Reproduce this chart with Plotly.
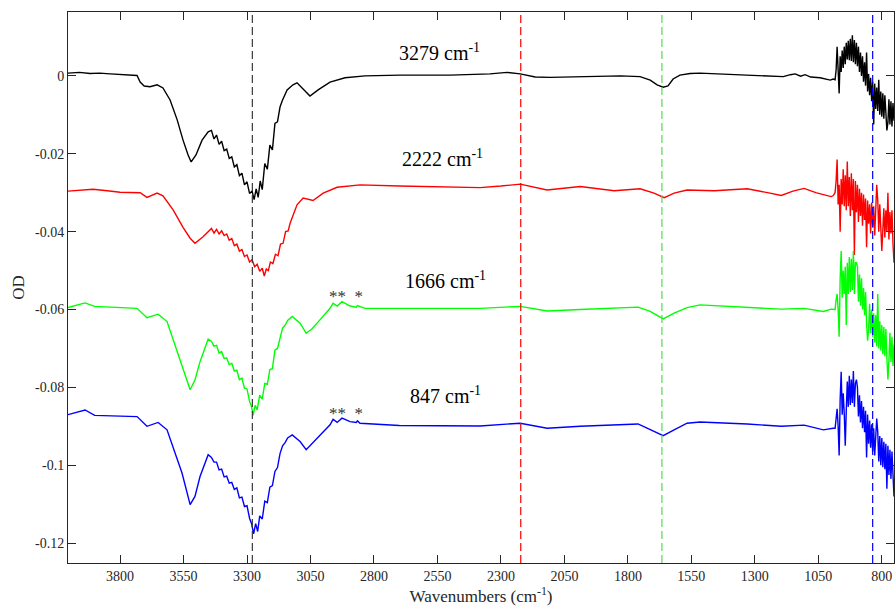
import plotly.graph_objects as go

# ---- data (wavenumber cm^-1, OD) ----
black = [(4005, 0.0007), (3960, 0.0009), (3918, 0.0006), (3880, 0.0007), (3839, 0.0005), (3800, 0.0004),
         (3761, 0.0002), (3733, 0.0001), (3721, -0.0016), (3705, -0.0026), (3682, -0.0028), (3654, -0.0023),
         (3631, -0.0031), (3603, -0.0062), (3575, -0.0113), (3552, -0.0165), (3532, -0.0203), (3520, -0.0221),
         (3501, -0.0203), (3477, -0.0165), (3453, -0.0144),
         (3440, -0.0140), (3430, -0.0162), (3420, -0.0152), (3410, -0.0176), (3400, -0.0168), (3390, -0.0192),
         (3380, -0.0188), (3370, -0.0212), (3360, -0.0208), (3350, -0.0234), (3340, -0.0228), (3330, -0.0256),
         (3320, -0.0250), (3310, -0.0280), (3300, -0.0272), (3290, -0.0302), (3280, -0.0296), (3272, -0.0318),
         (3264, -0.0290), (3256, -0.0312), (3248, -0.0270), (3240, -0.0292), (3230, -0.0225), (3220, -0.0240),
         (3210, -0.0178), (3200, -0.0190), (3190, -0.0122), (3180, -0.0118), (3170, -0.0080),
         (3160, -0.0062), (3142, -0.0036), (3119, -0.0023), (3103, -0.0018), (3083, -0.0031), (3052, -0.0052),
         (3020, -0.0036), (2973, -0.0016), (2914, -0.0005), (2835, 0.0000), (2697, 0.0002), (2500, 0.0002),
         (2343, 0.0005), (2276, 0.0009), (2224, 0.0005), (2165, -0.0003), (2106, -0.0004), (1988, -0.0003),
         (1830, 0.0000), (1752, -0.0002), (1712, -0.0011), (1685, -0.0023), (1661, -0.0029), (1642, -0.0026),
         (1622, -0.0008), (1595, 0.0002), (1555, 0.0006), (1516, 0.0007), (1397, 0.0004), (1279, 0.0000),
         (1188, -0.0002), (1160, 0.0003), (1141, 0.0005), (1120, -0.0001), (1102, 0.0003), (1080, -0.0003),
         (1043, -0.0005), (1003, -0.0011), (992, -0.0008),
         (984, -0.0010), (980, 0.0015), (976, 0.0075), (972, -0.0005), (968, -0.0045), (964, 0.0050),
         (960, 0.0010), (956, 0.0065), (952, 0.0020), (948, 0.0075), (944, 0.0030), (940, 0.0085),
         (936, 0.0042), (932, 0.0090), (928, 0.0040), (924, 0.0095), (920, 0.0038), (916, 0.0104),
         (912, 0.0035), (908, 0.0092), (904, 0.0030), (900, 0.0085), (896, 0.0025), (892, 0.0075),
         (888, 0.0010), (884, 0.0060), (880, 0.0000), (876, 0.0050), (872, -0.0015), (868, 0.0035),
         (864, -0.0025), (860, 0.0060), (856, -0.0040), (852, 0.0005), (848, -0.0050), (844, -0.0005),
         (840, -0.0065), (836, -0.0015), (832, -0.0125), (828, -0.0020), (824, -0.0085), (820, -0.0030),
         (816, -0.0090), (812, -0.0010), (808, -0.0100), (804, -0.0040), (800, -0.0105), (796, -0.0045),
         (792, -0.0110), (788, -0.0050), (784, -0.0115), (780, -0.0140), (776, -0.0120), (772, -0.0060),
         (768, -0.0125), (764, -0.0065), (760, -0.0130), (756, -0.0070), (752, -0.0115)]

red = [(4005, -0.0296), (3950, -0.0294), (3906, -0.0291), (3850, -0.0295), (3800, -0.0299), (3721, -0.0300),
       (3694, -0.0312), (3654, -0.0301), (3631, -0.0308), (3591, -0.0344), (3552, -0.0389), (3524, -0.0417),
       (3505, -0.0430), (3473, -0.0413), (3450, -0.0400),
       (3440, -0.0392), (3430, -0.0404), (3420, -0.0394), (3410, -0.0406), (3400, -0.0398), (3390, -0.0410),
       (3380, -0.0406), (3370, -0.0422), (3360, -0.0418), (3350, -0.0436), (3340, -0.0432), (3330, -0.0450),
       (3320, -0.0446), (3310, -0.0464), (3300, -0.0460), (3290, -0.0478), (3280, -0.0472), (3270, -0.0490),
       (3260, -0.0484), (3250, -0.0502), (3240, -0.0494), (3232, -0.0514), (3224, -0.0496), (3216, -0.0500),
       (3208, -0.0478), (3198, -0.0482), (3188, -0.0458), (3178, -0.0462), (3168, -0.0432), (3158, -0.0430),
       (3148, -0.0400), (3138, -0.0398), (3130, -0.0378),
       (3103, -0.0331), (3079, -0.0314), (3040, -0.0320), (3000, -0.0301), (2945, -0.0286), (2855, -0.0280),
       (2700, -0.0283), (2500, -0.0285), (2382, -0.0287), (2300, -0.0283), (2224, -0.0278), (2118, -0.0293),
       (1988, -0.0284), (1854, -0.0295), (1752, -0.0290), (1697, -0.0301), (1657, -0.0313), (1618, -0.0301),
       (1567, -0.0293), (1460, -0.0295), (1330, -0.0290), (1250, -0.0300), (1196, -0.0307), (1150, -0.0296),
       (1106, -0.0289), (1060, -0.0300), (1000, -0.0310), (992, -0.0308),
       (984, -0.0300), (980, -0.0270), (976, -0.0215), (972, -0.0330), (968, -0.0280), (964, -0.0400),
       (960, -0.0265), (956, -0.0330), (952, -0.0240), (948, -0.0335), (944, -0.0255), (940, -0.0345),
       (936, -0.0220), (932, -0.0335), (928, -0.0260), (924, -0.0360), (920, -0.0250), (916, -0.0345),
       (912, -0.0265), (908, -0.0460), (904, -0.0270), (900, -0.0350), (896, -0.0280), (892, -0.0375),
       (888, -0.0290), (884, -0.0360), (880, -0.0300), (876, -0.0385), (872, -0.0305), (868, -0.0370),
       (864, -0.0315), (860, -0.0440), (856, -0.0320), (852, -0.0380), (848, -0.0330), (844, -0.0405),
       (840, -0.0325), (836, -0.0390), (832, -0.0335), (828, -0.0410), (824, -0.0330), (820, -0.0280),
       (816, -0.0320), (812, -0.0400), (808, -0.0330), (804, -0.0410), (800, -0.0450), (796, -0.0395),
       (792, -0.0340), (788, -0.0415), (784, -0.0345), (780, -0.0400), (776, -0.0300), (772, -0.0420),
       (768, -0.0350), (764, -0.0405), (760, -0.0345), (756, -0.0430), (752, -0.0480)]

green = [(4005, -0.0595), (3938, -0.0583), (3900, -0.0592), (3800, -0.0594), (3733, -0.0597), (3694, -0.0621),
         (3650, -0.0612), (3615, -0.0631), (3591, -0.0678), (3556, -0.0746), (3524, -0.0806), (3505, -0.0781),
         (3485, -0.0734), (3453, -0.0676),
         (3440, -0.0682), (3430, -0.0694), (3420, -0.0692), (3410, -0.0712), (3400, -0.0708), (3390, -0.0726),
         (3380, -0.0724), (3370, -0.0742), (3360, -0.0738), (3350, -0.0758), (3340, -0.0756), (3330, -0.0780),
         (3320, -0.0776), (3310, -0.0802), (3300, -0.0804), (3290, -0.0836), (3282, -0.0850), (3276, -0.0872),
         (3268, -0.0846), (3260, -0.0858), (3250, -0.0820), (3240, -0.0830), (3230, -0.0790), (3220, -0.0792),
         (3210, -0.0754), (3200, -0.0752), (3190, -0.0704), (3180, -0.0700), (3170, -0.0672), (3160, -0.0648),
         (3150, -0.0640), (3140, -0.0628), (3122, -0.0618),
         (3091, -0.0635), (3067, -0.0661), (3045, -0.0650), (3024, -0.0635), (2973, -0.0597), (2961, -0.0584),
         (2945, -0.0591), (2926, -0.0580), (2894, -0.0591), (2870, -0.0594), (2865, -0.0590), (2835, -0.0597),
         (2600, -0.0597), (2382, -0.0597), (2224, -0.0592), (2118, -0.0604), (1988, -0.0600), (1760, -0.0594),
         (1712, -0.0605), (1661, -0.0624), (1618, -0.0609), (1567, -0.0595), (1516, -0.0588), (1330, -0.0595),
         (1196, -0.0599), (1106, -0.0597), (1030, -0.0605), (1000, -0.0599), (992, -0.0600),
         (984, -0.0600), (980, -0.0575), (976, -0.0560), (972, -0.0600), (968, -0.0670), (964, -0.0520),
         (960, -0.0450), (956, -0.0570), (952, -0.0500), (948, -0.0560), (944, -0.0490), (940, -0.0640),
         (936, -0.0480), (932, -0.0560), (928, -0.0465), (924, -0.0555), (920, -0.0470), (916, -0.0550),
         (912, -0.0450), (908, -0.0560), (904, -0.0480), (900, -0.0480), (896, -0.0490), (892, -0.0580),
         (888, -0.0510), (884, -0.0590), (880, -0.0520), (876, -0.0600), (872, -0.0545), (868, -0.0615),
         (864, -0.0555), (860, -0.0635), (856, -0.0680), (852, -0.0650), (848, -0.0585), (844, -0.0660),
         (840, -0.0600), (836, -0.0670), (832, -0.0610), (828, -0.0685), (824, -0.0615), (820, -0.0695),
         (816, -0.0560), (812, -0.0700), (808, -0.0630), (804, -0.0705), (800, -0.0640), (796, -0.0715),
         (792, -0.0645), (788, -0.0720), (784, -0.0650), (780, -0.0725), (776, -0.0780), (772, -0.0730),
         (768, -0.0660), (764, -0.0735), (760, -0.0670), (756, -0.0745), (752, -0.0690)]

blue = [(4005, -0.0870), (3938, -0.0858), (3900, -0.0872), (3800, -0.0873), (3733, -0.0875), (3694, -0.0900),
        (3650, -0.0890), (3615, -0.0909), (3591, -0.0952), (3556, -0.1020), (3524, -0.1101), (3505, -0.1080),
        (3485, -0.1029), (3453, -0.0973),
        (3440, -0.0980), (3430, -0.0992), (3420, -0.0992), (3410, -0.1012), (3400, -0.1010), (3390, -0.1030),
        (3380, -0.1028), (3370, -0.1046), (3360, -0.1044), (3350, -0.1062), (3340, -0.1058), (3330, -0.1084),
        (3320, -0.1082), (3310, -0.1106), (3300, -0.1104), (3290, -0.1136), (3282, -0.1150), (3274, -0.1176),
        (3266, -0.1150), (3258, -0.1170), (3250, -0.1130), (3240, -0.1138), (3230, -0.1092), (3220, -0.1096),
        (3210, -0.1056), (3200, -0.1052), (3190, -0.1016), (3180, -0.1006), (3170, -0.0970), (3160, -0.0950),
        (3150, -0.0942), (3140, -0.0930), (3122, -0.0922),
        (3091, -0.0939), (3067, -0.0960), (3045, -0.0945), (3024, -0.0930), (2973, -0.0896), (2961, -0.0882),
        (2945, -0.0890), (2926, -0.0879), (2894, -0.0888), (2870, -0.0890), (2865, -0.0886), (2855, -0.0892),
        (2700, -0.0898), (2382, -0.0899), (2224, -0.0892), (2118, -0.0905), (1988, -0.0900), (1760, -0.0894),
        (1712, -0.0909), (1661, -0.0924), (1618, -0.0909), (1567, -0.0892), (1516, -0.0889), (1330, -0.0894),
        (1196, -0.0900), (1106, -0.0897), (1030, -0.0909), (1000, -0.0905), (992, -0.0905),
        (984, -0.0905), (980, -0.0880), (976, -0.0855), (972, -0.0900), (968, -0.0975), (964, -0.0830),
        (960, -0.0760), (956, -0.0870), (952, -0.0815), (948, -0.0865), (944, -0.0950), (940, -0.0860),
        (936, -0.0785), (932, -0.0850), (928, -0.0770), (924, -0.0845), (920, -0.0780), (916, -0.0840),
        (912, -0.0758), (908, -0.0850), (904, -0.0790), (900, -0.0780), (896, -0.0800), (892, -0.0875),
        (888, -0.0820), (884, -0.0890), (880, -0.0835), (876, -0.0905), (872, -0.0850), (868, -0.0915),
        (864, -0.0860), (860, -0.0980), (856, -0.0870), (852, -0.0945), (848, -0.0885), (844, -0.0955),
        (840, -0.0895), (836, -0.0965), (832, -0.0905), (828, -0.0975), (824, -0.0910), (820, -0.0880),
        (816, -0.0915), (812, -0.0990), (808, -0.0925), (804, -0.1000), (800, -0.0930), (796, -0.1005),
        (792, -0.0940), (788, -0.1010), (784, -0.0945), (780, -0.1060), (776, -0.0950), (772, -0.1025),
        (768, -0.0960), (764, -0.1035), (760, -0.0965), (756, -0.1045), (752, -0.1080)]

series_colors = ["#000000", "#ff0000", "#00ff00", "#0000ff"]
line_positions = [3279, 2222, 1666, 836]
line_colors = ["#3a3a3a", "#ff0000", "#55d855", "#0000ff"]
labels = ["3279 cm<sup>-1</sup>", "2222 cm<sup>-1</sup>", "1666 cm<sup>-1</sup>", "847 cm<sup>-1</sup>"]
label_x = [2540, 2530, 2520, 2518]
label_y = [0.0061, -0.0211, -0.0524, -0.0820]
star_x = [2910, 2910]
star_y = [-0.0567, -0.0868]

x_ticks = [3800, 3550, 3300, 3050, 2800, 2550, 2300, 2050, 1800, 1550, 1300, 1050, 800]
x_ticktext = [str(v) for v in x_ticks]
y_ticks = [0, -0.02, -0.04, -0.06, -0.08, -0.1, -0.12]
y_ticktext = ["0", "-0.02", "-0.04", "-0.06", "-0.08", "-0.1", "-0.12"]

FONT = "Liberation Serif"
AX = "#262626"

fig = go.Figure()
for data, col in zip([black, red, green, blue], series_colors):
    fig.add_trace(go.Scatter(x=[p[0] for p in data], y=[p[1] for p in data], mode="lines",
                             line=dict(color=col, width=1.4), showlegend=False, hoverinfo="skip"))

for xv, col in zip(line_positions, line_colors):
    fig.add_shape(type="line", xref="x", yref="paper", x0=xv, x1=xv, y0=0, y1=1,
                  line=dict(color=col, width=1.2, dash="8px,4px"))

for t, xv, yv in zip(labels, label_x, label_y):
    fig.add_annotation(x=xv, y=yv, text=t, showarrow=False, xanchor="center", yanchor="middle",
                       font=dict(family=FONT, size=20, color="#000000"))
for xv, yv in zip(star_x, star_y):
    fig.add_annotation(x=xv, y=yv, text="** \u00a0*", showarrow=False, xanchor="center", yanchor="middle",
                       font=dict(family=FONT, size=17, color="#333333"))

axis_common = dict(showline=True, linecolor=AX, linewidth=1, mirror="allticks", ticks="inside",
                   ticklen=8, tickcolor=AX, tickwidth=1, showgrid=False, zeroline=False,
                   tickfont=dict(family=FONT, size=14, color=AX))
fig.update_xaxes(range=[4005, 752], tickmode="array", tickvals=x_ticks, ticktext=x_ticktext,
                 title=dict(text="Wavenumbers (cm<sup>-1</sup>)", font=dict(family=FONT, size=17, color=AX),
                            standoff=6), **axis_common)
fig.update_yaxes(range=[-0.1251, 0.0164], tickmode="array", tickvals=y_ticks, ticktext=y_ticktext,
                 title=dict(text="OD", font=dict(family=FONT, size=17, color=AX), standoff=6), **axis_common)

fig.update_layout(width=896, height=611, margin=dict(l=68, r=2, t=12, b=48),
                  paper_bgcolor="white", plot_bgcolor="white")
fig.write_html("out.html")
